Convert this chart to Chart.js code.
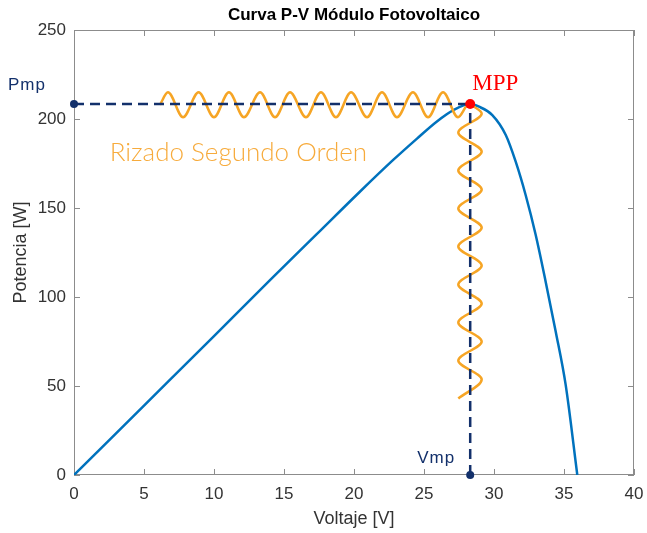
<!DOCTYPE html>
<html>
<head>
<meta charset="utf-8">
<script src="https://cdn.jsdelivr.net/npm/chart.js@4/dist/chart.umd.min.js"></script>
<style>
  html, body { margin: 0; padding: 0; background: #fff; }
  #wrap { width: 647px; height: 533px; }
</style>
</head>
<body>
<div id="wrap"><canvas id="pv" width="647" height="533"></canvas></div>
<script>
// P-V curve of the module
const voltage = [0, 5, 10, 14, 17.3, 20.4, 22.8, 24.5, 25.9, 27.1, 28.3, 28.93, 29.88, 30.84, 31.55, 32.26, 32.98, 33.69, 34.41, 35.12, 35.95];
const power   = [0, 39, 78, 109.5, 135, 159, 177, 189, 198.5, 205, 208.4, 206.9, 202.2, 191.0, 176.0, 157.3, 134.8, 108.6, 80.5, 50.6, 0];

// maximum power point
const vmp = 28.3;
const pmp = 208.4;

// second order ripple along the Pmp line (crests / troughs)
const rippleH_V = [6.14, 6.71, 7.79, 8.9, 10.0, 11.07, 12.14, 13.29, 14.36, 15.43, 16.57, 17.64, 18.71, 19.79, 20.93, 22.0, 23.07, 24.21, 25.29, 26.36, 27.43, 28.0];
const rippleH_P = [208, 215, 201, 215, 201, 215, 201, 215, 201, 215, 201, 215, 201, 215, 201, 215, 201, 215, 201, 215, 201, 207];

// second order ripple along the Vmp line (left / right lobes)
const rippleV_V = [28.3, 29.12, 27.45, 29.12, 27.45, 29.12, 27.45, 29.12, 27.45, 29.12, 27.45, 29.12, 27.45, 29.12, 27.45, 29.12, 27.45];
const rippleV_P = [208.4, 203.1, 192.4, 181.7, 171.1, 160.4, 149.7, 139.0, 128.4, 117.7, 107.0, 96.3, 85.7, 75.0, 64.3, 53.7, 43.0];

const xTicks = [0, 5, 10, 15, 20, 25, 30, 35, 40];
const yTicks = [0, 50, 100, 150, 200, 250];

const NAVY = '#13306b';
const ORANGE = '#f6a525';
const BLUE = '#0072bd';
const AXIS = '#8c8c8c';
const FONT = '"Liberation Sans", Arial, sans-serif';

const toXY = (xs, ys) => xs.map((x, i) => ({ x, y: ys[i] }));

// MATLAB-like box with inward ticks
const boxPlugin = {
  id: 'box',
  beforeDatasetsDraw(chart) {
    const { ctx, chartArea: a, scales: { x, y } } = chart;
    ctx.save();
    ctx.strokeStyle = AXIS;
    ctx.lineWidth = 1;
    ctx.strokeRect(a.left + 0.5, a.top + 0.5, a.right - a.left - 1, a.bottom - a.top - 1);
    ctx.beginPath();
    xTicks.forEach(v => {
      const px = Math.round(x.getPixelForValue(v)) + 0.5;
      ctx.moveTo(px, a.bottom); ctx.lineTo(px, a.bottom - 6);
      ctx.moveTo(px, a.top); ctx.lineTo(px, a.top + 6);
    });
    yTicks.forEach(v => {
      const py = Math.round(y.getPixelForValue(v)) + 0.5;
      ctx.moveTo(a.left, py); ctx.lineTo(a.left + 6, py);
      ctx.moveTo(a.right, py); ctx.lineTo(a.right - 6, py);
    });
    ctx.stroke();
    ctx.restore();
  }
};

// labels: Pmp, Vmp, MPP, Rizado
const labelPlugin = {
  id: 'labels',
  afterDraw(chart) {
    const { ctx, chartArea: a, scales: { x, y } } = chart;
    const px = x.getPixelForValue(vmp);
    const py = y.getPixelForValue(pmp);
    ctx.save();
    ctx.textBaseline = 'alphabetic';

    ctx.fillStyle = NAVY;
    ctx.font = '17px ' + FONT;
    ctx.letterSpacing = '1px';
    ctx.textAlign = 'left';
    ctx.fillText('Pmp', 8, py - 14);
    ctx.textAlign = 'right';
    ctx.fillText('Vmp', px - 15, a.bottom - 12);
    ctx.letterSpacing = '0px';

    ctx.fillStyle = '#ff0000';
    ctx.font = '23px "Liberation Serif", "Times New Roman", serif';
    ctx.textAlign = 'left';
    ctx.fillText('MPP', px + 2, py - 14);

    ctx.fillStyle = '#f7ab3c';
    ctx.font = '300 26px Lato, "Open Sans", sans-serif';
    ctx.fillText('Rizado Segundo Orden', x.getPixelForValue(2.55), py + 57);
    ctx.restore();
  }
};

new Chart(document.getElementById('pv'), {
  type: 'line',
  data: {
    datasets: [
      {
        label: 'MPP',
        data: [{ x: vmp, y: pmp }],
        showLine: false,
        pointRadius: 5,
        pointBackgroundColor: '#ff0000',
        pointBorderColor: '#ff0000',
        pointBorderWidth: 0,
        clip: false,
        order: 0,
      },
      {
        label: 'Pmp',
        data: [{ x: 0, y: pmp }, { x: vmp, y: pmp }],
        borderColor: NAVY,
        borderWidth: 2.5,
        borderDash: [10, 6],
        pointRadius: [4, 0],
        pointBackgroundColor: NAVY,
        pointBorderWidth: 0,
        clip: false,
        order: 1,
      },
      {
        label: 'Vmp',
        data: [{ x: vmp, y: 0 }, { x: vmp, y: pmp }],
        borderColor: NAVY,
        borderWidth: 2.5,
        borderDash: [10, 6],
        pointRadius: [4, 0],
        pointBackgroundColor: NAVY,
        pointBorderWidth: 0,
        clip: false,
        order: 1,
      },
      {
        label: 'Rizado H',
        data: toXY(rippleH_V, rippleH_P),
        borderColor: ORANGE,
        borderWidth: 2.5,
        pointRadius: 0,
        cubicInterpolationMode: 'monotone',
        order: 2,
      },
      {
        label: 'Rizado V',
        data: toXY(rippleV_V, rippleV_P),
        indexAxis: 'y',
        borderColor: ORANGE,
        borderWidth: 2.5,
        pointRadius: 0,
        cubicInterpolationMode: 'monotone',
        order: 2,
      },
      {
        label: 'P-V',
        data: toXY(voltage, power),
        borderColor: BLUE,
        borderWidth: 2.5,
        pointRadius: 0,
        cubicInterpolationMode: 'monotone',
        order: 3,
      },
    ],
  },
  options: {
    responsive: false,
    animation: false,
    layout: { padding: { left: 0, right: 13, top: 0, bottom: 0 } },
    plugins: {
      legend: { display: false },
      tooltip: { enabled: false },
      title: {
        display: true,
        fullSize: false,
        text: 'Curva P-V Módulo Fotovoltaico',
        color: '#000',
        font: { family: FONT, size: 17, weight: 'bold', lineHeight: 1.2 },
        padding: { top: 5, bottom: 4.6 },
      },
    },
    scales: {
      x: {
        type: 'linear',
        min: 0,
        max: 40,
        afterFit: (s) => { s.height = 58; s.paddingLeft = 0; s.paddingRight = 0; },
        grid: { display: false, drawTicks: false },
        border: { display: false },
        ticks: {
          stepSize: 5,
          autoSkip: false,
          maxRotation: 0,
          padding: 9,
          color: '#333',
          font: { family: FONT, size: 17 },
        },
        title: {
          display: true,
          text: 'Voltaje [V]',
          color: '#333',
          font: { family: FONT, size: 18, lineHeight: 1.2 },
          padding: { top: 0, bottom: 3 },
        },
      },
      y: {
        type: 'linear',
        min: 0,
        max: 250,
        afterFit: (s) => { s.width = 74; s.paddingTop = 0; s.paddingBottom = 0; },
        grid: { display: false, drawTicks: false },
        border: { display: false },
        ticks: {
          stepSize: 50,
          padding: 8,
          color: '#333',
          font: { family: FONT, size: 17 },
        },
        title: {
          display: true,
          text: 'Potencia [W]',
          color: '#333',
          font: { family: FONT, size: 18, lineHeight: 1.2 },
          padding: { top: 10, bottom: 0 },
        },
      },
    },
  },
  plugins: [boxPlugin, labelPlugin],
});
</script>
</body>
</html>
